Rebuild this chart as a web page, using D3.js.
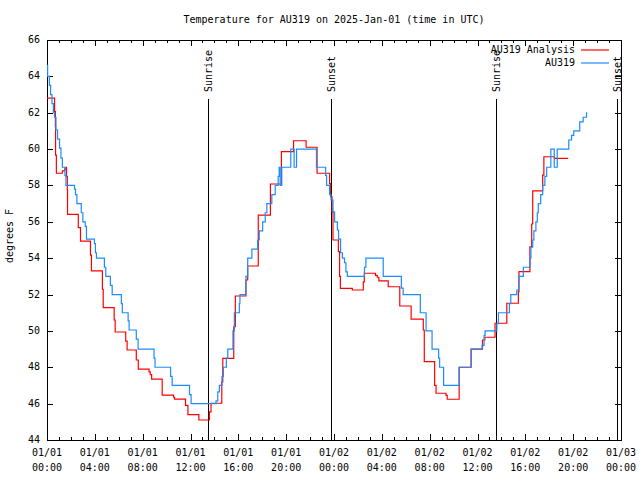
<!DOCTYPE html>
<html>
<head>
<meta charset="utf-8">
<script src="https://cdn.jsdelivr.net/npm/d3@7"></script>
<style>
  body { margin: 0; background: #fff; }
  text { font-family: "DejaVu Sans Mono", "Liberation Mono", monospace; font-size: 10px; fill: #000; }
</style>
</head>
<body>
<svg id="chart" width="640" height="480"></svg>
<script>
// ---- Data (minutes since 2025-01-01 00:00 UTC, temperature in degrees F) ----
const startTime = "2025-01-01T00:00:00Z";
const endTime = "2025-01-03T00:00:00Z";

const analysisMinutes = [0,38,42,43,47,77,88,95,98,102,103,157,168,218,223,278,282,337,342,395,402,448,458,512,518,525,578,635,640,695,707,762,815,823,877,882,937,945,998,1007,1060,1121,1176,1237,1300,1355,1418,1423,1430,1435,1462,1468,1472,1532,1587,1592,1648,1657,1665,1712,1770,1827,1888,1893,1945,1952,2002,2008,2068,2128,2185,2197,2248,2307,2365,2368,2423,2432,2437,2487,2493,2546,2615];
const analysisTemps = [62.8,62.06,61.23,59.67,58.67,58.8,58.9,59.0,58.5,57.75,56.41,55.68,54.94,54.17,53.3,52.29,51.28,50.6,49.94,49.44,48.95,48.4,47.9,47.75,47.6,47.35,46.47,46.35,46.25,45.9,45.4,45.1,45.55,46.02,47.2,48.49,50.23,51.92,52.8,53.57,56.37,58.08,59.86,60.46,60.1,58.67,58.1,57.38,56.55,55.0,54.36,53.0,52.34,52.25,52.7,53.17,53.05,52.95,52.75,52.43,51.37,50.65,50.05,48.31,47.0,46.57,46.45,46.24,48.0,49.0,49.5,49.65,50.42,51.52,52.16,53.26,54.63,55.88,57.7,58.57,59.58,59.49,59.49];

const obsMinutes = [0,3,12,18,25,32,38,45,53,63,70,77,90,95,138,143,150,172,180,192,198,238,243,248,288,295,318,327,373,378,407,412,448,457,537,542,620,628,715,723,848,857,865,878,885,900,907,933,940,965,968,998,1007,1028,1057,1065,1082,1095,1103,1128,1145,1160,1165,1170,1178,1223,1240,1252,1352,1398,1403,1418,1425,1435,1443,1457,1463,1473,1482,1493,1500,1507,1593,1600,1687,1778,1787,1873,1902,1932,1965,1970,1990,2068,2128,2183,2193,2198,2257,2265,2320,2327,2357,2367,2390,2423,2428,2437,2443,2453,2460,2465,2477,2487,2498,2507,2528,2545,2560,2618,2632,2643,2673,2690,2707,2710];
const obsTemps = [64.6,64.0,63.5,63.0,62.5,62.0,61.75,61.05,60.55,60.05,59.5,59.0,58.55,58.0,57.8,57.5,57.0,56.5,56.0,55.75,55.05,54.8,54.3,54.0,53.5,53.0,52.5,52.0,51.5,51.0,50.55,50.05,49.55,49.0,48.5,48.0,47.5,47.0,46.5,46.0,46.15,46.65,47.0,47.5,48.0,48.5,49.0,50.0,51.0,51.5,52.0,53.0,54.0,54.5,55.0,55.5,56.0,56.5,57.0,57.5,58.0,58.5,59.0,58.0,59.0,60.0,59.0,60.0,59.0,58.55,58.0,57.5,57.2,56.55,56.0,55.55,55.05,54.3,54.0,53.75,53.25,53.0,53.5,54.0,53.0,52.35,52.0,51.0,50.0,49.0,48.5,48.0,47.0,48.0,49.0,49.2,49.75,50.0,50.4,51.0,51.5,52.0,52.25,53.0,53.5,54.0,54.6,55.0,55.5,56.0,56.5,57.0,57.5,58.0,58.5,59.0,60.0,59.0,60.0,60.5,60.75,61.0,61.5,61.75,62.0,62.0];

const sunLabels = ["Sunrise", "Sunset", "Sunrise", "Sunset"];
const sunMinutes = [810, 1423, 2254, 2862];

const seriesNames = ["AU319 Analysis", "AU319"];
const seriesColors = ["#ff0000", "#1a8cff"];
const yTickValues = [44, 46, 48, 50, 52, 54, 56, 58, 60, 62, 64, 66];

const titleText = "Temperature for AU319 on 2025-Jan-01 (time in UTC)";
const yLabelText = "degrees F";

// ---- Layout ----
const mLeft = 47, mRight = 621, mTop = 40, mBottom = 440;
const svg = d3.select("#chart");
const t0 = new Date(startTime);
const toDate = m => new Date(t0.getTime() + m * 60000);

const x = d3.scaleUtc().domain([t0, new Date(endTime)]).range([mLeft, mRight]);
const y = d3.scaleLinear().domain([44, 66]).range([mBottom, mTop]);

// Title
svg.append("text").attr("x", (mLeft + mRight) / 2).attr("y", 20)
  .attr("text-anchor", "middle").attr("dominant-baseline", "middle").text(titleText);

// Y label
svg.append("text").attr("transform", `translate(10,236) rotate(-90)`)
  .attr("text-anchor", "middle").attr("dominant-baseline", "middle").text(yLabelText);

// Axes: bottom major + minor ticks (inward), labels
const majorTicks = x.ticks(d3.utcHour.every(4));
const minorTicks = x.ticks(d3.utcHour.every(1));
const g = svg.append("g").attr("shape-rendering", "crispEdges").attr("stroke", "#000");

minorTicks.forEach(d => {
  const isMajor = d.getUTCHours() % 4 === 0;
  const len = isMajor ? 6 : 3;
  const xx = Math.round(x(d)) + 0.5;
  g.append("line").attr("x1", xx).attr("x2", xx).attr("y1", mBottom).attr("y2", mBottom - len);
  g.append("line").attr("x1", xx).attr("x2", xx).attr("y1", mTop).attr("y2", mTop + len);
});
const fmtDate = d3.utcFormat("%m/%d"), fmtTime = d3.utcFormat("%H:%M");
majorTicks.forEach(d => {
  svg.append("text").attr("x", x(d)).attr("y", 453).attr("text-anchor", "middle")
    .attr("dominant-baseline", "middle").text(fmtDate(d));
  svg.append("text").attr("x", x(d)).attr("y", 468).attr("text-anchor", "middle")
    .attr("dominant-baseline", "middle").text(fmtTime(d));
});

// Y ticks left & right
yTickValues.forEach(v => {
  const yy = Math.round(y(v)) + 0.5;
  g.append("line").attr("x1", mLeft).attr("x2", mLeft + 6).attr("y1", yy).attr("y2", yy);
  g.append("line").attr("x1", mRight).attr("x2", mRight - 6).attr("y1", yy).attr("y2", yy);
  svg.append("text").attr("x", 40).attr("y", y(v)).attr("text-anchor", "end")
    .attr("dominant-baseline", "middle").text(v);
});

// Sun lines
sunMinutes.forEach((m, i) => {
  const xx = Math.round(x(toDate(m))) + 0.5;
  g.append("line").attr("x1", xx).attr("x2", xx).attr("y1", 99).attr("y2", mBottom);
  svg.append("text").attr("transform", `translate(${xx},92) rotate(-90)`)
    .attr("text-anchor", "start").attr("dominant-baseline", "middle").text(sunLabels[i]);
});

// Data lines
const line = d3.line().curve(d3.curveStepAfter).x(d => x(toDate(d[0]))).y(d => y(d[1]));
const analysisData = analysisMinutes.map((m, i) => [m, analysisTemps[i]]);
const obsData = obsMinutes.map((m, i) => [m, obsTemps[i]]);
svg.append("path").datum(analysisData).attr("d", line).attr("fill", "none")
  .attr("stroke", seriesColors[0]).attr("stroke-width", 1.2);
svg.append("path").datum(obsData).attr("d", line).attr("fill", "none")
  .attr("stroke", seriesColors[1]).attr("stroke-width", 1.2);

// Border
g.append("rect").attr("x", mLeft + 0.5).attr("y", mTop + 0.5)
  .attr("width", mRight - mLeft).attr("height", mBottom - mTop).attr("fill", "none");

// Legend
seriesNames.forEach((name, i) => {
  const ly = 50 + i * 13;
  svg.append("text").attr("x", 575).attr("y", ly).attr("text-anchor", "end")
    .attr("dominant-baseline", "middle").text(name);
  svg.append("line").attr("x1", 581).attr("x2", 609).attr("y1", ly).attr("y2", ly)
    .attr("stroke", seriesColors[i]).attr("stroke-width", 1.2);
});
</script>
</body>
</html>
